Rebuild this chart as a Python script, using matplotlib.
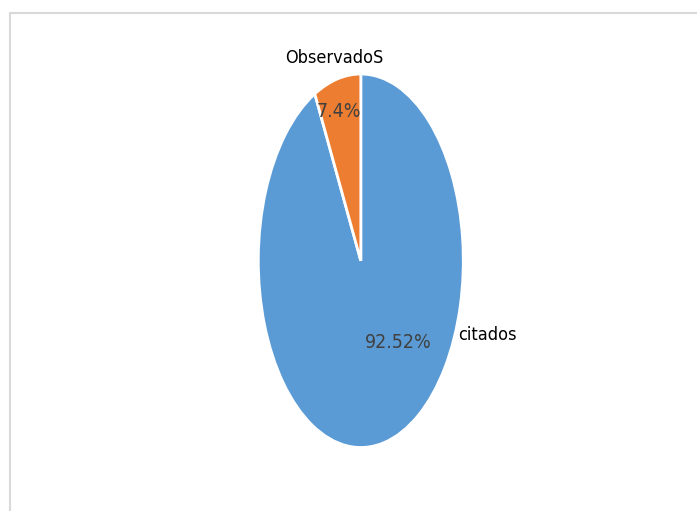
import matplotlib.pyplot as plt
from matplotlib.patches import Rectangle

# datos del grafico
categorias = ['citados', 'ObservadoS']
valores = [92.52, 7.4]
etiquetas_pct = ['92.52%', '7.4%']
colores = ['#5B9BD5', '#ED7D31']

W, H = 697, 511
fig = plt.figure(figsize=(W / 100, H / 100), dpi=100)

# marco gris del area del grafico (se sale por la derecha y abajo)
fig.patches.append(Rectangle((10 / W, -0.05), 1.2, (H - 13) / H + 0.05,
                             transform=fig.transFigure, fill=False,
                             edgecolor='#D9D9D9', linewidth=1.5))

# ejes con aspecto libre para que la torta quede estirada en vertical
cx, cy, rx, ry = 360.8, 260.75, 102.5, 186.75
ax = fig.add_axes([(cx - rx) / W, (H - cy - ry) / H, 2 * rx / W, 2 * ry / H])

fuente = ['DejaVu Sans']
wedges, textos, pcts = ax.pie(valores, labels=categorias, colors=colores,
                              startangle=90, counterclock=False,
                              autopct='%1.1f%%',
                              wedgeprops=dict(edgecolor='white', linewidth=2))
ax.set_aspect('auto')
ax.set_xlim(-1, 1)
ax.set_ylim(-1, 1)
ax.axis('off')

# posiciones de etiquetas (en coordenadas de datos del eje)
pos_etq = [(0.95, -0.40, 'left'), (-0.26, 1.085, 'center')]
pos_pct = [(0.37, -0.44), (-0.21, 0.80)]
for t, (x, y, ha) in zip(textos, pos_etq):
    t.set_position((x, y))
    t.set_ha(ha)
    t.set_va('center')
    t.set_fontsize(13)
    t.set_family(fuente)
    t.set_stretch('condensed')
    t.set_color('black')
for t, s, (x, y) in zip(pcts, etiquetas_pct, pos_pct):
    t.set_text(s)
    t.set_position((x, y))
    t.set_ha('center')
    t.set_va('center')
    t.set_fontsize(14)
    t.set_family(fuente)
    t.set_stretch('condensed')
    t.set_color('#404040')

fig.savefig('out.png', dpi=100)
